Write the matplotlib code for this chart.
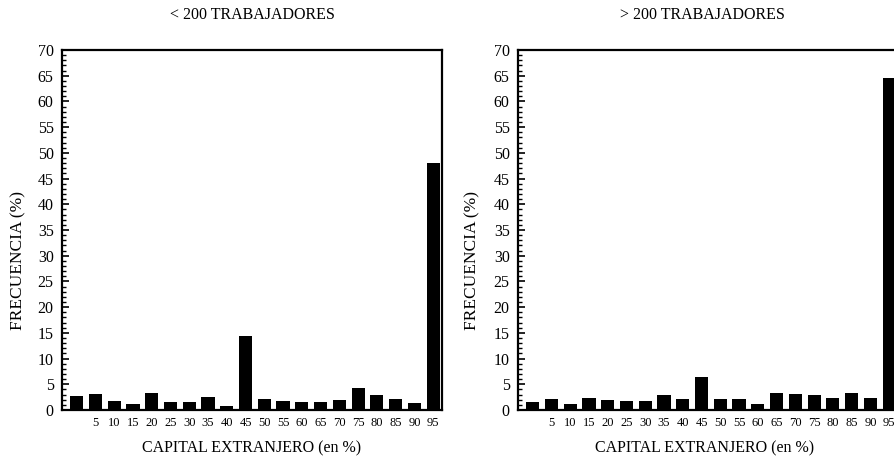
import matplotlib
matplotlib.use("Agg")
import matplotlib.pyplot as plt
from matplotlib.ticker import MultipleLocator
import numpy as np

plt.rcParams['font.family'] = ['Liberation Serif', 'DejaVu Serif']

bins = [0, 5, 10, 15, 20, 25, 30, 35, 40, 45, 50, 55, 60, 65, 70, 75, 80, 85, 90, 95]
tick_labels = ["5", "10", "15", "20", "25", "30", "35", "40", "45", "50",
               "55", "60", "65", "70", "75", "80", "85", "90", "95"]
small_firms = [2.7, 3.1, 1.8, 1.1, 3.4, 1.5, 1.5, 2.6, 0.7, 14.3,
               2.2, 1.7, 1.5, 1.6, 1.9, 4.3, 3.0, 2.2, 1.3, 48.0]
large_firms = [1.6, 2.1, 1.2, 2.4, 2.0, 1.8, 1.8, 2.9, 2.2, 6.5,
               2.2, 2.2, 1.2, 3.4, 3.1, 3.0, 2.4, 3.4, 2.4, 64.5]
titles = ["< 200 TRABAJADORES", "> 200 TRABAJADORES"]
xlabel = "CAPITAL EXTRANJERO (en %)"
ylabel = "FRECUENCIA (%)"

W, H = 894, 459
fig = plt.figure(figsize=(W / 100, H / 100), dpi=100)

def px(x0, y0, x1, y1):
    return [x0 / W, 1 - y1 / H, (x1 - x0) / W, (y1 - y0) / H]

axes_px = [(62, 50, 442, 410), (518, 50, 898, 410)]
title_x = [252, 702]
xlabel_x = [252, 705]
ylabel_x = [18, 472]

pos = np.arange(len(bins))
for i, (vals, rect) in enumerate(zip([small_firms, large_firms], axes_px)):
    ax = fig.add_axes(px(*rect))
    ax.bar(pos, vals, width=0.7, color='black', edgecolor='none')
    ax.set_xlim(-0.78, 19.47)
    ax.set_ylim(0, 70)
    ax.yaxis.set_major_locator(MultipleLocator(5))
    ax.yaxis.set_minor_locator(MultipleLocator(1))
    ax.set_xticks(pos[1:])
    ax.set_xticklabels(tick_labels)
    ax.tick_params(axis='x', length=0, pad=5, labelsize=9)
    ax.tick_params(axis='y', which='major', direction='in', length=5, width=1.2,
                   pad=6, labelsize=11.5)
    ax.tick_params(axis='y', which='minor', direction='in', length=3, width=1.0)
    for s in ax.spines.values():
        s.set_linewidth(1.6)
    fig.text(title_x[i] / W, 1 - 15 / H, titles[i], ha='center', va='center', fontsize=11.5)
    fig.text(xlabel_x[i] / W, 1 - 448 / H, xlabel, ha='center', va='center', fontsize=11.5)
    fig.text(ylabel_x[i] / W, 1 - 260 / H, ylabel, ha='center', va='center',
             rotation=90, fontsize=12.5)

fig.savefig("out.png", dpi=100)
